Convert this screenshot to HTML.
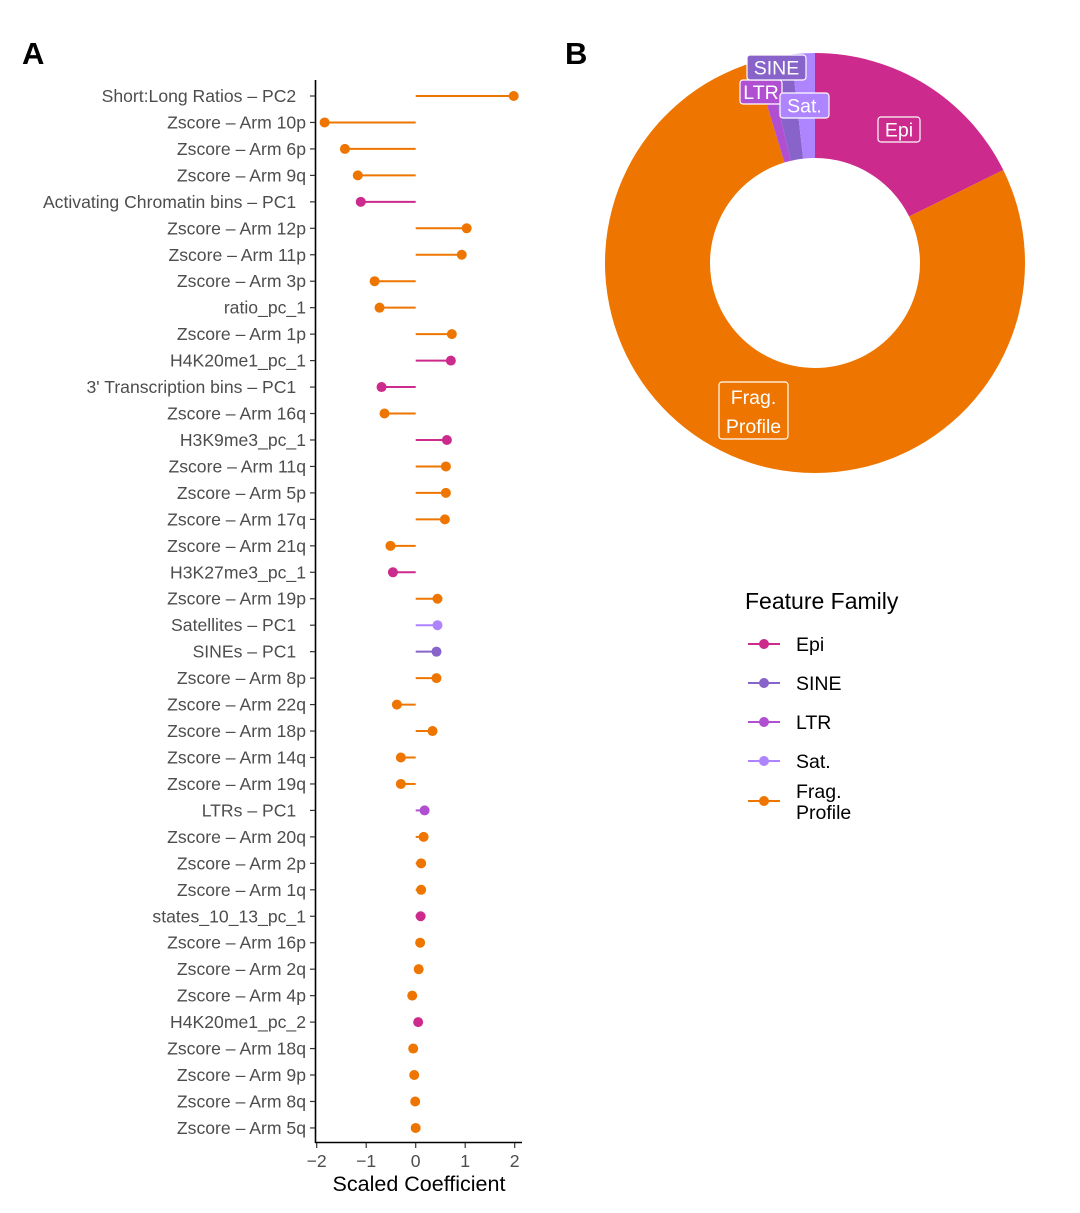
<!DOCTYPE html>
<html><head><meta charset="utf-8"><style>
body{margin:0;background:#fff;}
svg text{font-family:"Liberation Sans",sans-serif;}
</style></head><body>
<svg id="chart" width="1080" height="1208" viewBox="0 0 1080 1208" xmlns="http://www.w3.org/2000/svg">
<text x="22" y="64" font-size="31" font-weight="bold" fill="#000">A</text>
<text x="565" y="64" font-size="31" font-weight="bold" fill="#000">B</text>
<g id="lollipop"></g>
<g id="donut"></g>
<g id="legend">
<text x="745" y="609" font-size="23" fill="#000">Feature Family</text>
</g>
</svg>
<script>
const NS='http://www.w3.org/2000/svg';
const features=["Short:Long Ratios – PC2 ","Zscore – Arm 10p","Zscore – Arm 6p","Zscore – Arm 9q","Activating Chromatin bins – PC1 ","Zscore – Arm 12p","Zscore – Arm 11p","Zscore – Arm 3p","ratio_pc_1","Zscore – Arm 1p","H4K20me1_pc_1","3' Transcription bins – PC1 ","Zscore – Arm 16q","H3K9me3_pc_1","Zscore – Arm 11q","Zscore – Arm 5p","Zscore – Arm 17q","Zscore – Arm 21q","H3K27me3_pc_1","Zscore – Arm 19p","Satellites – PC1 ","SINEs – PC1 ","Zscore – Arm 8p","Zscore – Arm 22q","Zscore – Arm 18p","Zscore – Arm 14q","Zscore – Arm 19q","LTRs – PC1 ","Zscore – Arm 20q","Zscore – Arm 2p","Zscore – Arm 1q","states_10_13_pc_1","Zscore – Arm 16p","Zscore – Arm 2q","Zscore – Arm 4p","H4K20me1_pc_2","Zscore – Arm 18q","Zscore – Arm 9p","Zscore – Arm 8q","Zscore – Arm 5q"];
const coefs=[1.98,-1.84,-1.43,-1.17,-1.11,1.03,0.93,-0.83,-0.73,0.73,0.71,-0.69,-0.63,0.63,0.61,0.61,0.59,-0.51,-0.46,0.44,0.44,0.42,0.42,-0.38,0.34,-0.30,-0.30,0.18,0.16,0.11,0.11,0.10,0.09,0.06,-0.07,0.05,-0.05,-0.03,-0.01,0.0];
const families=["Frag","Frag","Frag","Frag","Epi","Frag","Frag","Frag","Frag","Frag","Epi","Epi","Frag","Epi","Frag","Frag","Frag","Frag","Epi","Frag","Sat","SINE","Frag","Frag","Frag","Frag","Frag","LTR","Frag","Frag","Frag","Epi","Frag","Frag","Frag","Epi","Frag","Frag","Frag","Frag"];
const xTicks=[-2,-1,0,1,2];
const xTickLabels=["−2","−1","0","1","2"];
const pieFamilies=["Epi","Frag","LTR","SINE","Sat"];
const pieShares=[17.7,77.6,1.0,1.9,1.8];
const legendFamilies=["Epi","SINE","LTR","Sat","Frag"];
const legendLabels=[["Epi"],["SINE"],["LTR"],["Sat."],["Frag.","Profile"]];
const COLORS={Epi:"#CC2A8C",SINE:"#8763CA",LTR:"#B14FD2",Sat:"#AE84FF",Frag:"#EE7600"};
const pieLabelText={Epi:["Epi"],Frag:["Frag.","Profile"],LTR:["LTR"],SINE:["SINE"],Sat:["Sat."]};

function mk(tag,attrs,parent){const e=document.createElementNS(NS,tag);for(const k in attrs)e.setAttribute(k,attrs[k]);parent.appendChild(e);return e;}

const L=document.getElementById('lollipop');
const x0=415.7, xs=49.5;
const xScale=v=>x0+v*xs;
const yScale=i=>96+i*26.46;
const yl=mk('line',{x1:315.5,y1:80,x2:315.5,y2:1143,stroke:'#000','stroke-width':1.6},L);

const xl=mk('line',{x1:315,y1:1142.5,x2:522,y2:1142.5,stroke:'#000','stroke-width':1.6},L);

features.forEach((f,i)=>{
  const y=yScale(i);
  const tk=mk('line',{x1:310,y1:y,x2:315,y2:y,stroke:'#333','stroke-width':1.2},L);
  
  
  const t=mk('text',{x:306,y:y+6,'font-size':17.6,fill:'#4d4d4d','text-anchor':'end'},L);
  t.textContent=f.endsWith(' ')?f.trim()+'\u00a0\u00a0':f;
  
  
  const c=COLORS[families[i]];
  const ln=mk('line',{x1:xScale(0),y1:y,x2:xScale(coefs[i]),y2:y,stroke:c,'stroke-width':2},L);
  
  
  const d=mk('circle',{cx:xScale(coefs[i]),cy:y,r:5,fill:c},L);
  
  
});
xTicks.forEach((v,i)=>{
  const x=xScale(v);
  const tk=mk('line',{x1:x,y1:1143,x2:x,y2:1148,stroke:'#333','stroke-width':1.2},L);
  
  
  const t=mk('text',{x:x,y:1167,'font-size':17.6,fill:'#4d4d4d','text-anchor':'middle'},L);
  t.textContent=xTickLabels[i];
  
  
});
const xt=mk('text',{x:419,y:1191,'font-size':21.5,fill:'#000','text-anchor':'middle'},L);
xt.textContent='Scaled Coefficient';



const D=document.getElementById('donut');
const cx=815,cy=263,R=210,r=105;
const total=pieShares.reduce((a,b)=>a+b,0);
function pt(a,rad){return [cx+rad*Math.sin(a),cy-rad*Math.cos(a)];}
let acc=0;
pieFamilies.forEach((fam,i)=>{
  const a0=acc/total*2*Math.PI;acc+=pieShares[i];const a1=acc/total*2*Math.PI;
  const big=(a1-a0)>Math.PI?1:0;
  const p1=pt(a0,R),p2=pt(a1,R),p3=pt(a1,r),p4=pt(a0,r);
  const p=mk('path',{d:`M${p1}A${R},${R} 0 ${big} 1 ${p2}L${p3}A${r},${r} 0 ${big} 0 ${p4}Z`,fill:COLORS[fam]},D);
  
  
});
const labelBoxes={Epi:[878,117,42,25],Frag:[719,382,69,57],SINE:[747,55,59,25],LTR:[740,80,42,24],Sat:[780,93,49,25]};
['Frag','Epi','LTR','SINE','Sat'].forEach(fam=>{
  const [bx,by,bw,bh]=labelBoxes[fam];
  const g=mk('g',{},D);
  
  
  mk('rect',{x:bx,y:by,width:bw,height:bh,rx:3,fill:COLORS[fam],stroke:'#fff','stroke-width':1.2},g);
  const lines=pieLabelText[fam];
  lines.forEach((s,j)=>{
    const t=mk('text',{x:bx+bw/2,y:by+(lines.length>1?22+j*29:bh/2+7),'font-size':19.5,fill:'#fff','text-anchor':'middle'},g);
    t.textContent=s;
  });
});

const G=document.getElementById('legend');
const ly=[644,683,722,761,801];
legendFamilies.forEach((fam,i)=>{
  const y=ly[i];const c=COLORS[fam];
  const g=mk('g',{},G);
  
  
  mk('line',{x1:748,y1:y,x2:780,y2:y,stroke:c,'stroke-width':2},g);
  mk('circle',{cx:764,cy:y,r:5,fill:c},g);
  const lab=legendLabels[i];
  lab.forEach((s,j)=>{
    const t=mk('text',{x:796,y:(lab.length>1?y-3+j*21:y+7),'font-size':19.5,fill:'#000'},g);
    t.textContent=s;
  });
});
</script>
</body></html>
